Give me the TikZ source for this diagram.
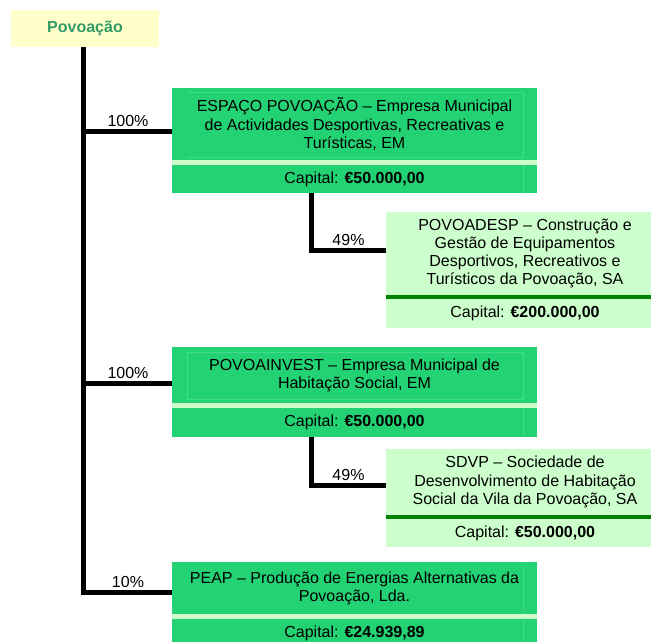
\documentclass[tikz,border=0pt]{standalone}
\usepackage{fontspec}
\setmainfont{Liberation Sans}
\definecolor{boxgreen}{HTML}{22D273}
\definecolor{palegreen}{HTML}{CCFFCC}
\definecolor{darkgreen}{HTML}{008000}
\definecolor{paleyellow}{HTML}{FFFFCC}
\definecolor{titlegreen}{HTML}{339966}
\definecolor{cellline}{HTML}{44DA8C}
\begin{document}
\begin{tikzpicture}[x=1pt,y=-1pt,
  txt/.style={font=\fontsize{16}{18.2}\selectfont, align=center, inner sep=0pt, text=black, draw=none},
  gbox/.style={txt, fill=boxgreen, minimum width=365pt},
  lbox/.style={txt, fill=palegreen, minimum width=278pt},
  conn/.style={line width=5pt, black},
  pct/.style={font=\fontsize{16}{18.2}\selectfont, anchor=base, inner sep=0pt, text=black},
  faint/.style={draw=cellline, line width=0.5pt}
]
\clip (0,0) rectangle (651,641);
\fill[white] (0,0) rectangle (651,641);

% title
\node[txt, fill=paleyellow, minimum width=148pt, minimum height=37pt, text=titlegreen, font=\fontsize{16}{18.2}\selectfont\bfseries] (pov) at (85,28.5) {Povoação};

% box 1
\node[gbox, minimum height=72pt] (e1) at (354.5,124) {ESPAÇO POVOAÇÃO – Empresa Municipal\\de Actividades Desportivas, Recreativas e\\Turísticas, EM};
\fill[palegreen] (172,160) rectangle (537,165);
\node[gbox, minimum height=28pt] (e1c) at (354.5,179) {Capital: \textbf{€50.000,00}};
\draw[faint] (187,92) -- (523,92) -- (523,157) -- (187,157);
\draw[faint] (523,165) -- (523,193);

% box 2
\node[lbox, minimum height=83pt] (p1) at (525,253.5) {POVOADESP – Construção e\\Gestão de Equipamentos\\Desportivos, Recreativos e\\Turísticos da Povoação, SA};
\fill[darkgreen] (386,295) rectangle (664,299);
\node[lbox, minimum height=29pt] (p1c) at (525,313.5) {Capital: \textbf{€200.000,00}};

% box 3
\node[gbox, minimum height=56pt] (i1) at (354.5,375) {POVOAINVEST – Empresa Municipal de\\Habitação Social, EM};
\fill[palegreen] (172,403) rectangle (537,408);
\node[gbox, minimum height=29pt] (i1c) at (354.5,422.5) {Capital: \textbf{€50.000,00}};
\draw[faint] (187,352) rectangle (523,399);
\draw[faint] (523,408) -- (523,437);

% box 4
\node[lbox, minimum height=66pt] (s1) at (525,482) {SDVP – Sociedade de\\Desenvolvimento de Habitação\\Social da Vila da Povoação, SA};
\fill[darkgreen] (386,515) rectangle (664,519);
\node[lbox, minimum height=28pt] (s1c) at (525,533) {Capital: \textbf{€50.000,00}};

% box 5
\node[gbox, minimum height=52pt] (pe) at (354.5,588) {PEAP – Produção de Energias Alternativas da\\Povoação, Lda.};
\fill[palegreen] (172,614) rectangle (537,619);
\node[gbox, minimum height=28pt] (pec) at (354.5,633) {Capital: \textbf{€24.939,89}};
\draw[faint] (523,566) -- (523,614);
\draw[faint] (523,619) -- (523,647);

% connectors
\coordinate (j1) at (83.5,131);
\coordinate (j2) at (83.5,383);
\coordinate (j3) at (83.5,592);
\coordinate (k1) at (311,250);
\coordinate (k2) at (311,485);
\draw[conn] (pov.south -| j1) -- (j3) -- (j3 -| pe.west);
\draw[conn] (j1) -- (j1 -| e1.west);
\draw[conn] (j2) -- (j2 -| i1.west);
\draw[conn] (e1c.south -| k1) -- (k1) -- (k1 -| p1.west);
\draw[conn] (i1c.south -| k2) -- (k2) -- (k2 -| s1.west);

% labels
\node[pct] (l1) at (128,126.5) {100\%};
\node[pct] (l2) at (348.5,245.5) {49\%};
\node[pct] (l3) at (128,378.5) {100\%};
\node[pct] (l4) at (348.5,480.5) {49\%};
\node[pct] (l5) at (128,587.5) {10\%};
\end{tikzpicture}
\end{document}
